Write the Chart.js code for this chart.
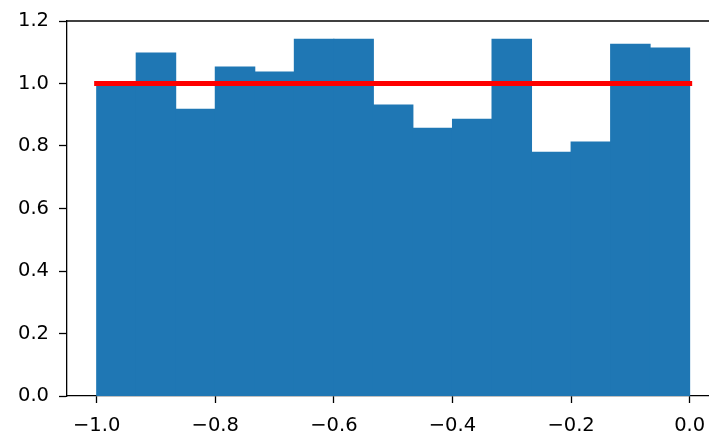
<!DOCTYPE html>
<html>
<head>
<meta charset="utf-8">
<script src="https://cdn.jsdelivr.net/npm/chart.js@4/dist/chart.umd.min.js"></script>
<style>
  html, body { margin: 0; padding: 0; background: #ffffff; overflow: hidden; }
  canvas { display: block; }
</style>
</head>
<body>
<canvas id="c" width="709" height="432"></canvas>
<script>
// Histogram bin edges (15 bins from -1 to 0)
const binEdges = [-1.0, -0.9333, -0.8667, -0.8, -0.7333, -0.6667, -0.6, -0.5333,
                  -0.4667, -0.4, -0.3333, -0.2667, -0.2, -0.1333, -0.0667, 0.0];
// Density per bin
const binHeights = [0.995, 1.098, 0.918, 1.053, 1.037, 1.142, 1.142, 0.931,
                    0.857, 0.886, 1.142, 0.780, 0.8125, 1.126, 1.1135];
// Reference density line
const lineX = [-1.0, 0.0];
const lineY = [1.0, 1.0];
// Tick labels
const xTicks = [-1.0, -0.8, -0.6, -0.4, -0.2, 0.0];
const yTicks = [0.0, 0.2, 0.4, 0.6, 0.8, 1.0, 1.2];

const barData = binHeights.map((h, i) => ({ x: (binEdges[i] + binEdges[i + 1]) / 2, y: h }));
const lineData = lineX.map((x, i) => ({ x: x, y: lineY[i] }));

const fmt = v => {
  const s = Math.abs(v).toFixed(1);
  return (v < -1e-9 ? '\u2212' : '') + s;
};

const topSpine = {
  id: 'topSpine',
  afterDraw(chart) {
    const a = chart.chartArea, ctx = chart.ctx;
    ctx.save();
    ctx.strokeStyle = '#000000';
    ctx.lineWidth = 1.3;
    ctx.beginPath();
    ctx.moveTo(a.left, a.top);
    ctx.lineTo(a.right, a.top);
    ctx.stroke();
    ctx.restore();
  }
};

const tickFont = { family: 'DejaVu Sans', size: 19.5 };

new Chart(document.getElementById('c'), {
  type: 'bar',
  data: {
    datasets: [
      {
        type: 'line',
        data: lineData,
        borderColor: '#ff0000',
        borderWidth: 5,
        borderCapStyle: 'square',
        pointRadius: 0,
        fill: false,
        order: 0
      },
      {
        type: 'bar',
        data: barData,
        backgroundColor: '#1f77b4',
        borderWidth: 0,
        inflateAmount: 0.5,
        barPercentage: 1.0,
        categoryPercentage: 1.0,
        order: 1
      }
    ]
  },
  options: {
    responsive: false,
    maintainAspectRatio: false,
    animation: false,
    devicePixelRatio: 1,
    layout: { padding: { left: 0, right: 0, top: 21, bottom: 0 } },
    plugins: { legend: { display: false }, tooltip: { enabled: false } },
    scales: {
      x: {
        type: 'linear',
        min: -1.05,
        max: 0.0326,
        offset: false,
        afterBuildTicks: axis => { axis.ticks = xTicks.map(v => ({ value: v })); },
        afterFit: axis => { axis.height = 36; axis.paddingLeft = 0; axis.paddingRight = 0; },
        ticks: {
          callback: v => fmt(v),
          font: tickFont,
          color: '#000000',
          padding: 11,
          maxRotation: 0,
          autoSkip: false
        },
        grid: {
          offset: false,
          drawOnChartArea: false,
          drawTicks: true,
          tickLength: 7,
          tickWidth: 1.3,
          tickColor: '#000000'
        },
        border: { display: true, color: '#000000', width: 1.3 }
      },
      y: {
        type: 'linear',
        min: 0,
        max: 1.2,
        afterBuildTicks: axis => { axis.ticks = yTicks.map(v => ({ value: v })); },
        afterFit: axis => { axis.width = 67; axis.paddingTop = 0; axis.paddingBottom = 0; },
        ticks: {
          callback: v => fmt(v),
          font: tickFont,
          color: '#000000',
          padding: 10,
          autoSkip: false
        },
        grid: {
          drawOnChartArea: false,
          drawTicks: true,
          tickLength: 8,
          tickWidth: 1.3,
          tickColor: '#000000'
        },
        border: { display: true, color: '#000000', width: 1.3 }
      }
    }
  },
  plugins: [topSpine]
});
</script>
</body>
</html>
